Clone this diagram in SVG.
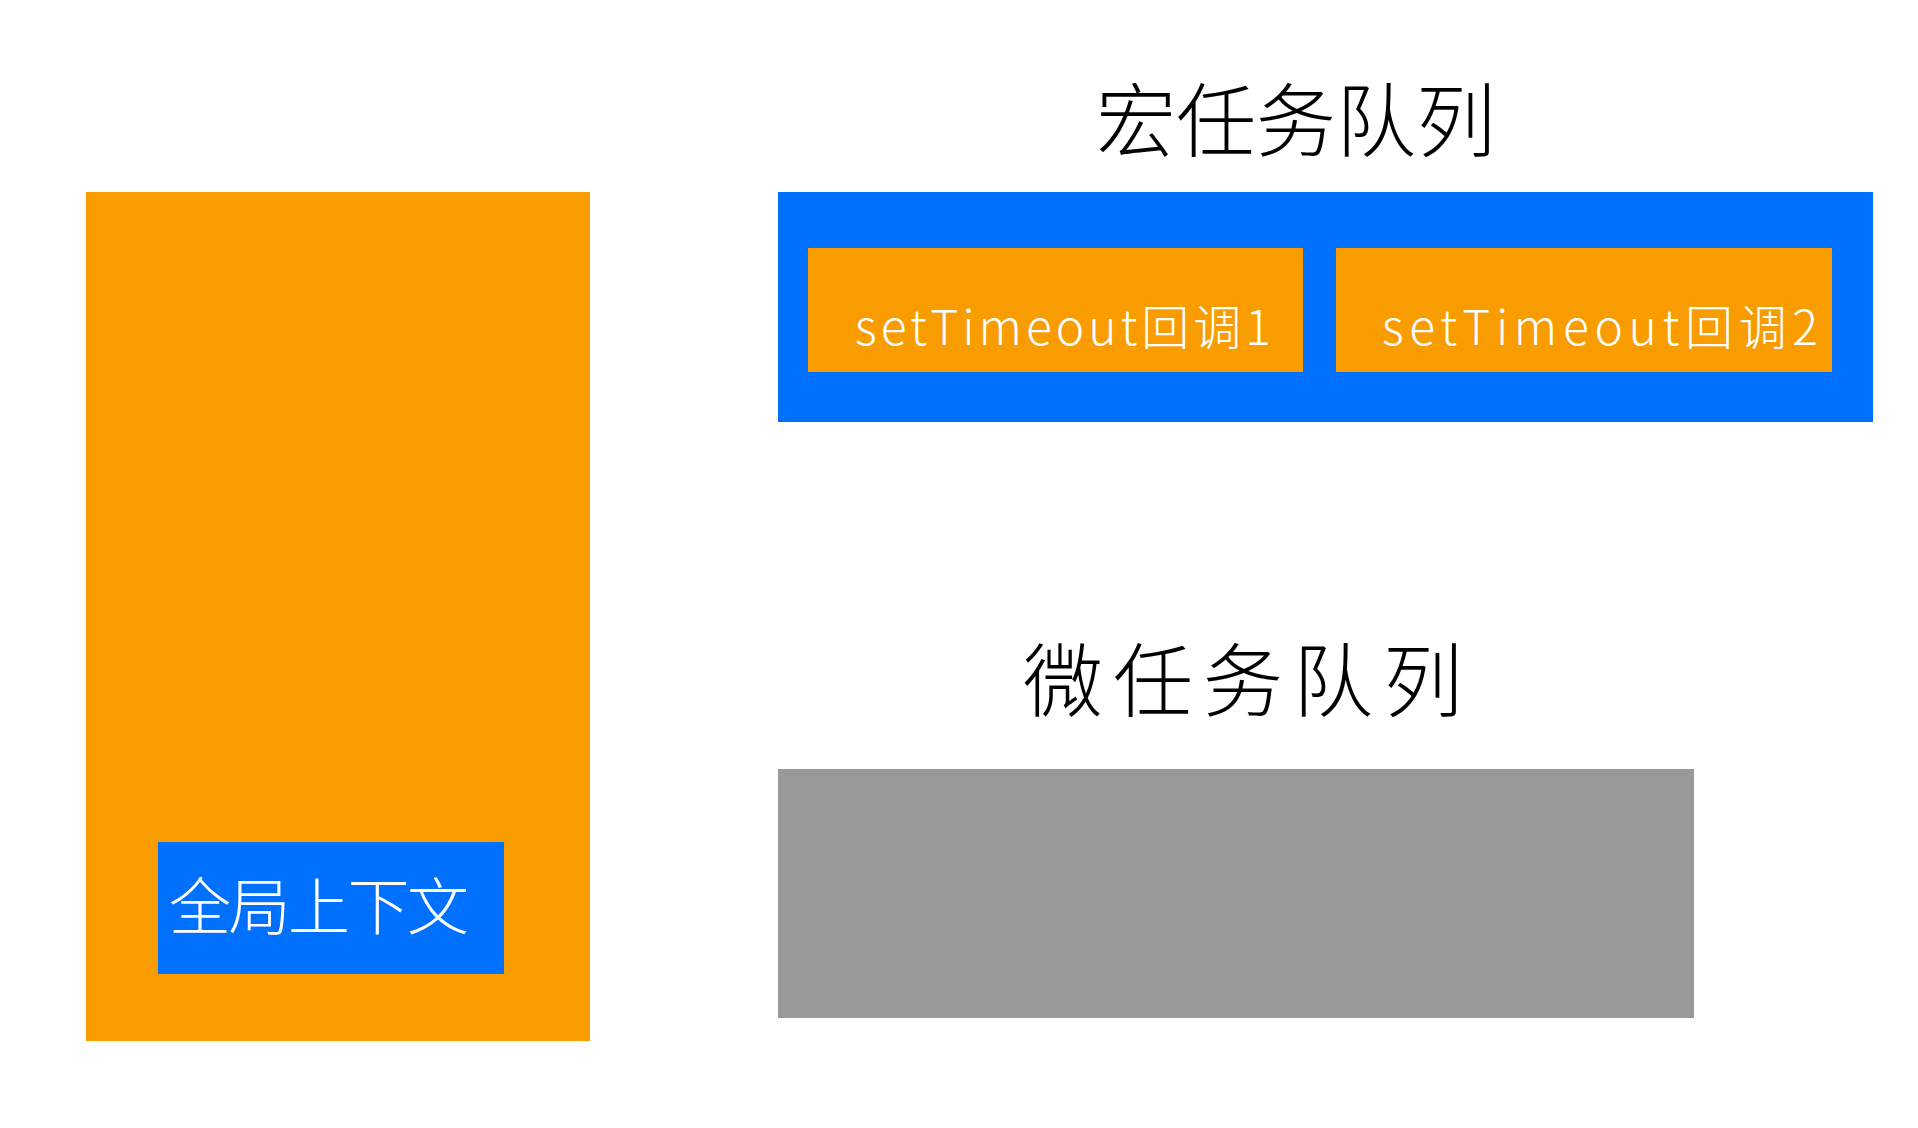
<svg xmlns="http://www.w3.org/2000/svg" width="1918" height="1128" viewBox="0 0 1918 1128">
<style>
.orange{fill:#f99c00}
.blue{fill:#0070ff}
.gray{fill:#999999}
.t{font-family:"Noto Sans CJK SC","Liberation Sans",sans-serif;font-weight:300;text-anchor:middle}
.dark{fill:#000000}
.light{fill:#ffffff}
</style>
<rect width="1918" height="1128" fill="#ffffff"/>
<g id="call-stack">
<rect class="orange" x="86" y="192" width="504" height="849"/>
</g>
<g id="global-context">
<rect class="blue" x="158" y="842" width="346" height="132"/>
<text class="t light" x="319" y="930" font-size="62" textLength="300" lengthAdjust="spacing">全局上下文</text>
</g>
<g id="macro-title">
<text class="t dark" x="1296" y="150" font-size="80" textLength="400" lengthAdjust="spacing">宏任务队列</text>
</g>
<g id="macro-queue">
<rect class="blue" x="778" y="192" width="1095" height="230"/>
</g>
<g id="cb1">
<rect class="orange" x="808" y="248" width="495" height="124"/>
<text class="t light" x="1063" y="345" font-size="48" textLength="416" lengthAdjust="spacing">setTimeout回调1</text>
</g>
<g id="cb2">
<rect class="orange" x="1336" y="248" width="496" height="124"/>
<text class="t light" x="1600" y="345" font-size="48" textLength="436" lengthAdjust="spacing">setTimeout回调2</text>
</g>
<g id="micro-title">
<text class="t dark" x="1243" y="710" font-size="80" textLength="440" lengthAdjust="spacing">微任务队列</text>
</g>
<g id="micro-queue">
<rect class="gray" x="778" y="769" width="916" height="249"/>
</g>
<g id="connectors"></g>
</svg>
